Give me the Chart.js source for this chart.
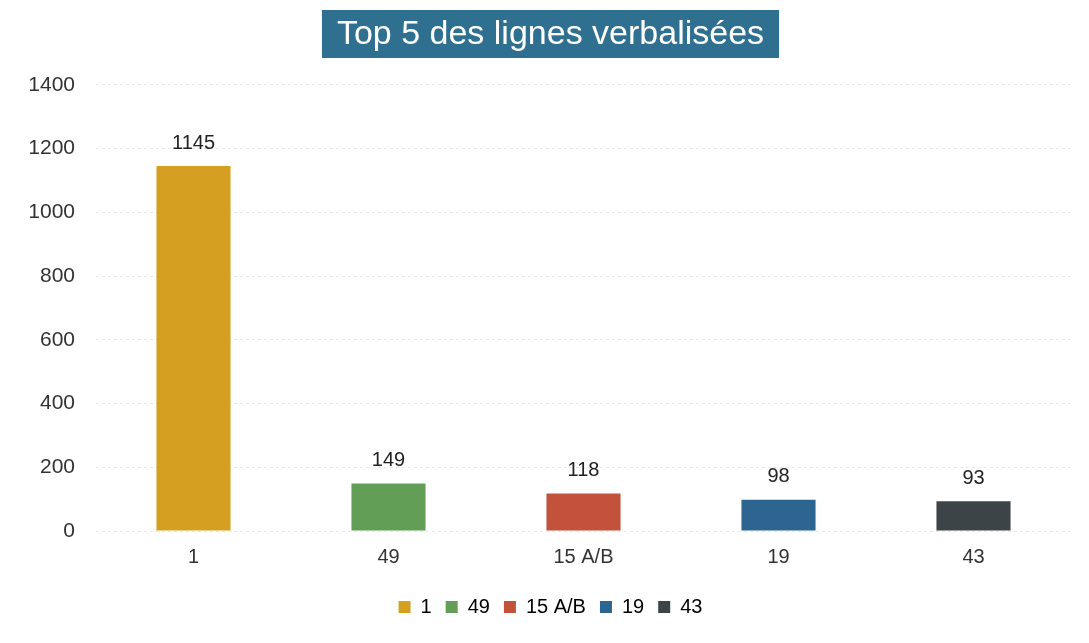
<!DOCTYPE html>
<html>
<head>
<meta charset="utf-8">
<script src="https://cdn.jsdelivr.net/npm/chart.js@4.4.0/dist/chart.umd.min.js"></script>
<style>
  html, body { margin: 0; padding: 0; background: #fff; }
  #wrap { width: 1089px; height: 643px; }
</style>
</head>
<body>
<div id="wrap"><canvas id="chart"></canvas></div>
<script>
// données du graphique
const lignes = ['1', '49', '15 A/B', '19', '43'];
const verbalisations = [1145, 149, 118, 98, 93];
const couleurs = ['#D5A022', '#629E56', '#C2523C', '#2C6690', '#3D4448'];
const yTicks = [0, 200, 400, 600, 800, 1000, 1200, 1400];

const police = '"Liberation Sans", Arial, sans-serif';

// fond bleu derrière le titre
const titleBox = {
  id: 'titleBox',
  beforeDraw(chart) {
    const t = chart.titleBlock;
    if (!t) return;
    const ctx = chart.ctx;
    ctx.save();
    ctx.font = '34px ' + police;
    const w = ctx.measureText(chart.options.plugins.title.text).width + 30;
    const cx = (t.left + t.right) / 2;
    ctx.fillStyle = '#2F7090';
    ctx.fillRect(cx - w / 2, 10, w, 48);
    ctx.restore();
  }
};

// valeurs au-dessus des barres
const valueLabels = {
  id: 'valueLabels',
  afterDatasetsDraw(chart) {
    const ctx = chart.ctx;
    const meta = chart.getDatasetMeta(0);
    ctx.save();
    ctx.font = '20px ' + police;
    ctx.fillStyle = '#222';
    ctx.textAlign = 'center';
    ctx.textBaseline = 'bottom';
    meta.data.forEach((bar, i) => {
      ctx.fillText(verbalisations[i], bar.x, bar.y - 13);
    });
    ctx.restore();
  }
};

const ctx = document.getElementById('chart').getContext('2d');
new Chart(ctx, {
  type: 'bar',
  data: {
    labels: lignes,
    datasets: [{
      label: 'Verbalisations',
      data: verbalisations,
      backgroundColor: couleurs,
      borderWidth: 0,
      categoryPercentage: 0.38,
      barPercentage: 1
    }]
  },
  options: {
    responsive: true,
    maintainAspectRatio: false,
    animation: false,
    layout: { padding: { left: 30, right: 18, top: 0, bottom: 16 } },
    scales: {
      y: {
        min: 0,
        max: 1400,
        afterBuildTicks: (axis) => { axis.ticks = yTicks.map(v => ({ value: v })); },
        afterFit: (axis) => { axis.width = 66; },
        ticks: {
          color: '#333',
          padding: 21,
          callback: (v) => String(v),
          font: { size: 21, family: police }
        },
        grid: { color: '#e8e8e8', drawTicks: false },
        border: { display: false, dash: [3, 3] }
      },
      x: {
        ticks: {
          color: '#333',
          padding: 14,
          font: { size: 20, family: police }
        },
        grid: { display: false, drawTicks: false },
        border: { display: false }
      }
    },
    plugins: {
      title: {
        display: true,
        text: 'Top 5 des lignes verbalisées',
        color: '#fff',
        font: { size: 34, weight: 'normal', family: police },
        padding: { top: 14, bottom: 30 }
      },
      legend: {
        position: 'bottom',
        onClick: () => {},
        labels: {
          color: '#333',
          boxWidth: 12,
          boxHeight: 12,
          padding: 14,
          font: { size: 20, family: police },
          generateLabels: () => lignes.map((l, i) => ({
            text: l,
            fillStyle: couleurs[i],
            strokeStyle: couleurs[i],
            lineWidth: 0,
            hidden: false,
            index: i,
            datasetIndex: 0
          }))
        }
      },
      tooltip: { enabled: false }
    }
  },
  plugins: [titleBox, valueLabels]
});
</script>
</body>
</html>
